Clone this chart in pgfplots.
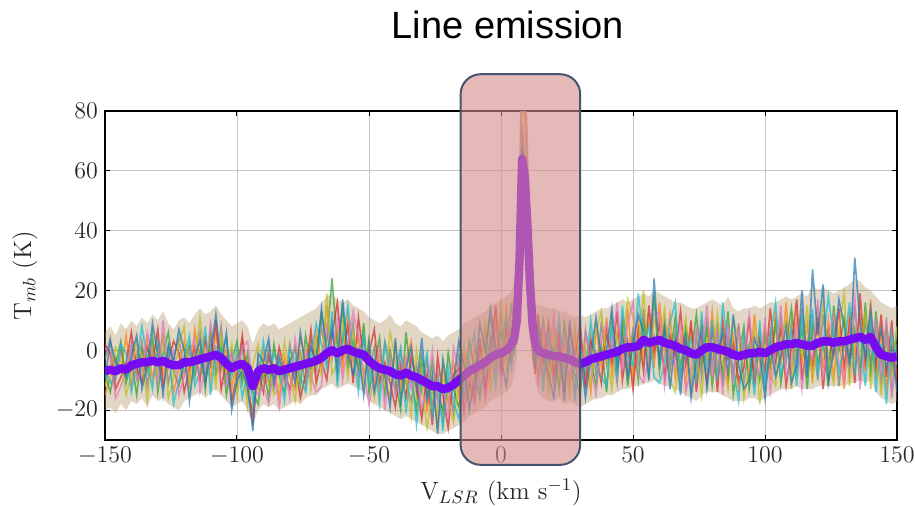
\documentclass[border=0pt]{standalone}
\usepackage{fontspec}
\usepackage{pgfplots}
\usepackage{pgfplotstable}
\pgfplotsset{compat=1.18}
\newfontfamily\titlefont{Liberation Sans}
\definecolor{tabblue}{RGB}{31,119,180}
\definecolor{taborange}{RGB}{255,127,14}
\definecolor{tabgreen}{RGB}{44,160,44}
\definecolor{tabred}{RGB}{214,39,40}
\definecolor{tabpurple}{RGB}{148,103,189}
\definecolor{tabbrown}{RGB}{140,86,75}
\definecolor{tabpink}{RGB}{227,119,194}
\definecolor{tabgray}{RGB}{127,127,127}
\definecolor{tabolive}{RGB}{188,189,34}
\definecolor{tabcyan}{RGB}{23,190,207}
\definecolor{meanviolet}{RGB}{118,10,240}
\definecolor{bandcol}{RGB}{178,148,100}
\definecolor{boxfill}{RGB}{213,138,138}
\definecolor{boxedge}{RGB}{70,85,110}

\pgfplotstableread{
x m a b c d e f g h
-150 -7 -3 -15 -8 2 -12 -6 1 -10
-148 -6.5 4 -9 -14 -1 -5 -11 -2 3
-146 -7 -10 -2 -5 -13 1 -8 -16 -4
-144 -6 0 -7 3 -9 -3 2 -12 -6
-142 -6.5 -8 5 -11 -4 -15 -1 -6 -9
-140 -5 2 -12 -3 6 -8 -14 0 -2
-138 -4.5 -9 -1 -15 -6 3 -4 -10 5
-136 -4 3 -6 0 -11 -2 8 -7 -13
-134 -4 -12 4 -7 1 -17 -3 6 -5
-132 -3.5 1 -10 5 -4 0 -13 -2 9
-130 -4 -6 2 -14 7 -9 3 -11 -1
-128 -3.5 5 -8 -1 -12 4 -5 10 -15
-126 -4.5 -11 0 6 -3 -16 1 -6 2
-124 -5 -2 -14 -7 3 -9 -18 0 -4
-122 -5 4 -6 -12 -1 2 -10 -15 7
-120 -4 -8 3 -4 -14 8 -2 -9 0
-118 -4 0 -11 2 -6 -13 5 -1 -17
-116 -3.5 -6 7 -9 1 -4 -12 4 -2
-114 -3 6 -4 0 -10 11 -7 -14 3
-112 -2.5 -9 2 -13 4 -3 8 -6 -11
-110 -2 3 -10 7 -5 0 -15 9 -1
-108 -1.5 -4 6 -8 10 -12 1 -3 12
-106 -2.5 8 -7 2 -13 5 -2 -10 -5
-104 -4.5 -10 1 -15 -3 -7 4 -12 6
-102 -6 0 -13 -4 -17 2 -9 -1 -20
-100 -5 -12 -2 3 -8 -15 0 -6 -10
-98 -4.5 2 -9 -11 5 -4 -16 1 -7
-96 -6 -15 -4 -1 -10 -19 -7 3 -12
-94 -12 -20 -8 -14 -24 -5 -17 -11 -27
-92 -7 -3 -13 -18 -6 2 -10 -15 -1
-90 -6 -10 0 -5 -14 -8 3 -12 -4
-88 -6.5 1 -11 -16 -2 -6 -9 -18 4
-86 -6 -13 -5 2 -9 -15 -1 -7 -11
-84 -7 -4 -16 -9 1 -12 -6 -19 -2
-82 -6.5 -11 -2 -14 -7 3 -17 -5 -9
-80 -6 2 -9 -4 -13 -8 0 -16 -3
-78 -5.5 -8 -13 1 -5 -17 -3 4 -11
-76 -5 -1 4 -12 -16 -2 -9 -7 6
-74 -4.5 -12 -3 5 -8 1 -14 0 -6
-72 -4 3 -10 -6 7 -13 -2 -9 1
-70 -3.5 -7 6 -1 -11 4 9 -14 -4
-68 -2.5 8 -5 12 -3 -9 2 -12 14
-66 -1 -4 15 3 -10 19 -6 8 -1
-64 0 10 -3 24 5 -8 13 -2 7
-62 -1 -9 7 1 16 -4 -12 11 -6
-60 0 5 -7 14 -2 9 3 -10 17
-58 0.5 -3 12 -6 8 -9 15 2 -1
-56 -0.5 9 -4 3 -11 6 -1 13 -8
-54 -1 -10 5 -6 11 -2 -14 4 0
-52 -1.5 4 -9 9 -3 -12 6 -7 -15
-50 -3.5 -8 2 -14 -1 5 -11 -18 3
-48 -5 1 -12 -5 7 -16 -3 -9 -14
-46 -6 -13 -2 4 -10 -7 -18 1 -5
-44 -6.5 3 -9 -15 -4 -12 2 -20 -8
-42 -7 -4 -16 0 -11 6 -9 -2 -19
-40 -8 -14 2 -10 -19 -3 -7 -15 4
-38 -8.5 0 -12 -20 -5 -15 1 -9 -17
-36 -7.5 -11 -4 6 -16 -8 -21 -2 -6
-34 -8.5 -17 3 -9 -2 -22 -6 -13 1
-32 -9 -5 -15 -20 -11 0 -25 -8 -13
-30 -10 -14 -6 -2 -23 -12 -9 -19 4
-28 -11 -3 -20 -15 -8 -26 -1 -13 -17
-26 -12 -19 -10 -4 -25 -14 -22 0 -8
-24 -12 -7 -26 -16 -2 -21 -11 -18 -28
-22 -13 -24 -5 -20 -15 -9 -27 -12 -3
-20 -12.5 -10 -18 -1 -26 -16 -6 -22 -14
-18 -11.5 -21 -4 -13 -8 -24 -17 1 -11
-16 -10 -2 -15 -19 -6 -11 -23 -8 3
-14 -8.5 -16 -1 -9 -20 2 -12 -22 -5
-12 -7 -4 -13 3 -11 -18 -2 -8 -20
-10 -6 -14 2 -7 -17 -3 6 -19 -9
-8 -5 1 -10 -16 4 -8 -13 -2 9
-6 -4 -11 7 -3 -14 11 -6 -17 0
-4 -2.5 5 -8 12 -1 -13 3 -6 14
-2 -1.5 -7 10 -2 15 -4 -12 8 1
0 -1 12 -5 6 -9 17 2 -11 -3
2 0 -3 14 0 8 -8 11 3 -12
4 2 9 1 16 -4 7 -7 13 5
5 4 6 11 2 17 -2 9 14 0
6 10 14 8 22 5 18 2 26 10
7 30 32 45 24 20 40 18 52 28
8 64 75 95 60 55 85 50 110 68
9 58 62 88 52 45 78 40 96 58
10 42 44 60 38 30 55 28 68 40
11 22 20 34 25 12 30 14 40 18
12 8 10 4 16 -2 12 6 20 3
13 2 -3 9 5 -8 11 -1 7 -6
14 0 6 -7 -2 12 -10 3 -12 8
16 -1 -9 5 10 -4 2 -14 8 -1
18 -1.5 3 -11 -5 9 -15 6 -2 -8
20 -2 -12 7 1 -8 5 -3 12 -16
22 -2 8 -5 -13 4 -9 11 -6 0
24 -2.5 -6 2 9 -14 -1 -10 5 -17
26 -3 1 -12 -4 7 -16 3 -9 10
28 -4 -14 5 -8 -2 8 -17 0 -6
30 -4.5 4 -9 -15 9 -5 1 -12 -1
32 -4 -10 -1 6 -13 2 -7 7 -16
34 -3 5 -14 -3 3 -11 10 -6 -2
36 -2.5 -8 8 -12 -1 6 -4 -15 11
38 -2 9 -6 2 -11 13 -9 4 -3
40 -1.5 -5 11 -14 6 -2 -12 9 0
42 -1 2 -8 10 -4 -13 7 -1 14
44 -0.5 -11 6 -3 13 4 -9 16 -6
46 0.5 12 -4 8 -10 1 15 -7 5
48 1 -6 14 -12 3 17 -2 9 -9
50 1 7 -9 4 -13 11 -5 16 2
52 1.5 -4 10 -10 6 -1 19 -8 12
54 3.5 14 -3 9 -7 20 2 -11 6
56 2.5 -8 11 1 15 -5 8 -2 -10
58 3 5 -6 18 -1 10 -9 13 24
60 3.5 -2 16 -7 9 3 -11 12 -4
62 2.5 10 -1 6 -9 14 -4 -12 8
64 2 -7 12 -3 5 -10 9 1 -13
66 1.5 6 -9 11 -2 -14 16 -5 3
68 0.5 -10 4 -6 13 1 -8 10 -15
70 0 3 -12 8 -5 11 -1 -14 6
72 -1 -13 7 -2 10 -9 4 -6 -16
74 -1.5 5 -8 12 -14 0 -11 8 -3
76 0 -9 10 -4 3 -15 13 -1 7
78 1 11 -3 7 -11 4 -7 15 -13
80 1 -5 13 -12 8 -2 10 -9 2
82 0.5 8 -6 3 -14 12 -10 5 -1
84 0 -12 4 -8 10 -4 16 -15 6
86 -0.5 4 -11 13 -3 -13 1 9 -8
88 -1.5 -8 6 -15 2 10 -6 -11 12
90 -2 9 -14 -3 -10 4 -17 7 -5
92 -1.5 -11 3 8 -6 -16 5 -2 -13
94 -1 2 -9 -13 11 -5 -1 12 -10
96 -1 -7 12 0 -12 7 -15 -4 4
98 -0.5 6 -4 -10 3 -18 10 -8 -1
100 -1 -13 8 5 -7 1 -11 11 -16
102 0 7 -10 -5 14 -8 4 -14 2
104 1 -6 13 9 -3 -12 16 -1 -9
106 1.5 12 -5 -11 7 3 -8 15 -2
108 2 -4 16 2 -12 10 -1 -9 8
110 2 9 -8 14 1 -13 6 -3 -11
112 2.5 -9 11 -2 17 4 -12 8 -5
114 2 14 -4 7 -10 -2 12 -13 20
116 1.5 -7 9 -13 3 15 -6 2 -9
118 1.5 5 -11 10 -5 -9 14 -3 27
120 2.5 -10 15 -4 11 1 -8 17 5
122 3 12 -6 3 -13 16 2 -10 22
124 3 -5 10 -12 6 -3 18 5 -11
126 2.5 9 -9 15 -2 -11 4 12 0
128 3 -12 6 0 14 7 -7 -4 17
130 3 4 -13 11 -6 19 1 -10 8
132 3.5 -8 13 -3 9 -12 16 6 -5
134 4 15 -2 7 -11 3 -8 18 31
136 4.5 -6 12 -10 19 -1 6 -13 9
138 3.5 10 -7 16 -4 13 -12 3 -2
140 4.5 -4 17 -9 8 -13 11 0 14
142 1 8 -10 13 -6 5 -14 10 -3
144 -1.5 -11 6 -4 12 -15 2 -8 7
146 -2 5 -13 9 -9 1 -18 11 -6
148 -2.5 -14 3 -7 10 -10 6 -16 1
150 -2 2 -9 7 -12 8 -5 -1 -14
}\spectra

% band outline: upper envelope left to right, then lower envelope right to left
\pgfplotstableread[row sep=\\]{
x y\\
-150 6\\ -148 8\\ -146 5\\ -144 9\\ -142 7\\ -140 10\\ -138 8\\ -136 11\\ -134 9\\ -132 12\\
-130 10\\ -128 13\\ -126 9\\ -124 7\\ -122 10\\ -120 11\\ -118 9\\ -116 12\\ -114 14\\ -112 12\\
-110 13\\ -108 15\\ -106 12\\ -104 10\\ -102 8\\ -100 9\\ -98 10\\ -96 8\\ -94 2\\ -92 7\\
-90 9\\ -88 8\\ -86 9\\ -84 7\\ -82 8\\ -80 9\\ -78 10\\ -76 11\\ -74 12\\ -72 13\\
-70 14\\ -68 16\\ -66 18\\ -64 19\\ -62 17\\ -60 16\\ -58 17\\ -56 15\\ -54 14\\ -52 13\\
-50 11\\ -48 10\\ -46 9\\ -44 10\\ -42 12\\ -40 9\\ -38 8\\ -36 10\\ -34 9\\ -32 8\\
-30 6\\ -28 5\\ -26 4\\ -24 5\\ -22 3\\ -20 5\\ -18 6\\ -16 7\\ -14 9\\ -12 10\\
-10 11\\ -8 12\\ -6 13\\ -4 15\\ -2 16\\ 0 17\\ 2 18\\ 4 20\\ 5 23\\ 6 30\\
7 55\\ 8 110\\ 9 95\\ 10 65\\ 11 38\\ 12 22\\ 13 16\\ 14 15\\ 16 15\\ 18 14\\
20 14\\ 22 13\\ 24 13\\ 26 12\\ 28 11\\ 30 12\\ 32 11\\ 34 12\\ 36 13\\ 38 14\\
40 14\\ 42 15\\ 44 16\\ 46 17\\ 48 16\\ 50 17\\ 52 18\\ 54 19\\ 56 18\\ 58 20\\
60 19\\ 62 18\\ 64 17\\ 66 16\\ 68 16\\ 70 15\\ 72 14\\ 74 14\\ 76 15\\ 78 16\\
80 17\\ 82 16\\ 84 15\\ 86 18\\ 88 14\\ 90 13\\ 92 14\\ 94 14\\ 96 15\\ 98 14\\
100 15\\ 102 16\\ 104 16\\ 106 17\\ 108 18\\ 110 17\\ 112 18\\ 114 19\\ 116 18\\ 118 22\\
120 20\\ 122 21\\ 124 20\\ 126 19\\ 128 20\\ 130 21\\ 132 22\\ 134 24\\ 136 23\\ 138 21\\
140 20\\ 142 18\\ 144 16\\ 146 15\\ 148 14\\ 150 15\\
150 -17\\ 148 -18\\ 146 -17\\ 144 -16\\ 142 -14\\ 140 -10\\ 138 -11\\ 136 -10\\ 134 -11\\ 132 -11\\
130 -12\\ 128 -12\\ 126 -12\\ 124 -12\\ 122 -12\\ 120 -12\\ 118 -13\\ 116 -13\\ 114 -13\\ 112 -12\\
110 -13\\ 108 -13\\ 106 -13\\ 104 -14\\ 102 -15\\ 100 -16\\ 98 -17\\ 96 -16\\ 94 -16\\ 92 -17\\
90 -17\\ 88 -17\\ 86 -16\\ 84 -15\\ 82 -14\\ 80 -14\\ 78 -14\\ 76 -15\\ 74 -17\\ 72 -16\\
70 -15\\ 68 -14\\ 66 -13\\ 64 -12\\ 62 -12\\ 60 -11\\ 58 -10\\ 56 -11\\ 54 -11\\ 52 -12\\
50 -12\\ 48 -13\\ 46 -13\\ 44 -14\\ 42 -15\\ 40 -15\\ 38 -16\\ 36 -16\\ 34 -17\\ 32 -18\\
30 -19\\ 28 -18\\ 26 -17\\ 24 -18\\ 22 -16\\ 20 -17\\ 18 -17\\ 16 -16\\ 14 -14\\ 13 -10\\
12 -4\\ 11 8\\ 10 22\\ 9 38\\ 8 45\\ 7 12\\ 6 -2\\ 5 -8\\ 4 -12\\ 2 -14\\
0 -15\\ -2 -16\\ -4 -17\\ -6 -19\\ -8 -20\\ -10 -21\\ -12 -22\\ -14 -24\\ -16 -25\\ -18 -26\\
-20 -27\\ -22 -28\\ -24 -28\\ -26 -27\\ -28 -26\\ -30 -25\\ -32 -24\\ -34 -23\\ -36 -22\\ -38 -23\\
-40 -22\\ -42 -21\\ -44 -20\\ -46 -19\\ -48 -18\\ -50 -17\\ -52 -14\\ -54 -13\\ -56 -12\\ -58 -11\\
-60 -12\\ -62 -13\\ -64 -11\\ -66 -12\\ -68 -13\\ -70 -15\\ -72 -15\\ -74 -16\\ -76 -18\\ -78 -17\\
-80 -18\\ -82 -19\\ -84 -20\\ -86 -18\\ -88 -19\\ -90 -18\\ -92 -20\\ -94 -25\\ -96 -20\\ -98 -17\\
-100 -18\\ -102 -19\\ -104 -17\\ -106 -15\\ -108 -13\\ -110 -14\\ -112 -16\\ -114 -14\\ -116 -15\\ -118 -16\\
-120 -17\\ -122 -20\\ -124 -19\\ -126 -18\\ -128 -16\\ -130 -17\\ -132 -15\\ -134 -19\\ -136 -16\\ -138 -18\\
-140 -17\\ -142 -20\\ -144 -18\\ -146 -21\\ -148 -19\\ -150 -20\\
}\band

\begin{document}
\begin{tikzpicture}
\path[use as bounding box] (-52.5pt,-32.5pt) rectangle (405pt,220pt);
\begin{axis}[
  at={(0,0)}, anchor=south west,
  scale only axis, width=396pt, height=164.5pt,
  xmin=-150, xmax=150, ymin=-30, ymax=80,
  xtick={-150,-100,...,150}, ytick={-20,0,...,80},
  grid=major, major grid style={gray!45, line width=0.4pt},
  major tick length=2.5pt,
  tick style={black, line width=0.5pt},
  axis line style={black, line width=0.6pt},
  tick label style={font=\fontsize{12.5}{15}\selectfont, black!85},
  label style={font=\fontsize{12.5}{15}\selectfont, black!85},
  xlabel={V$_{LSR}$ (km s$^{-1}$)},
  ylabel={T$_{mb}$ (K)},
  xlabel style={at={(axis description cs:0.5,-0.158)}, anchor=center},
  ylabel style={at={(axis description cs:-0.101,0.5)}, anchor=center},
]
\addplot[fill=bandcol, fill opacity=0.38, draw=none] table[x=x, y=y] {\band};
\addplot[tabgray, opacity=0.7, line width=0.8pt] table[x=x, y=a] {\spectra};
\addplot[taborange, opacity=0.7, line width=0.8pt] table[x=x, y=b] {\spectra};
\addplot[tabgreen, opacity=0.7, line width=0.8pt] table[x=x, y=c] {\spectra};
\addplot[tabred, opacity=0.7, line width=0.8pt] table[x=x, y=d] {\spectra};
\addplot[tabolive, opacity=0.7, line width=0.8pt] table[x=x, y=e] {\spectra};
\addplot[tabcyan, opacity=0.7, line width=0.8pt] table[x=x, y=f] {\spectra};
\addplot[tabpink, opacity=0.7, line width=0.8pt] table[x=x, y=g] {\spectra};
\addplot[tabblue, opacity=0.7, line width=0.8pt] table[x=x, y=h] {\spectra};
\addplot[meanviolet, line width=4.2pt, line join=round] table[x=x, y=m] {\spectra};
\coordinate (boxbl) at (axis cs:-15.3,-38.3);
\coordinate (boxtr) at (axis cs:30,92.3);
\end{axis}
\draw[rounded corners=10pt, fill=boxfill, fill opacity=0.6, draw=boxedge, line width=1pt]
  (boxbl) rectangle (boxtr);
\node[font=\titlefont\fontsize{19}{22}\selectfont, anchor=center] at (201.5pt,207.5pt) {Line emission};
\end{tikzpicture}
\end{document}
